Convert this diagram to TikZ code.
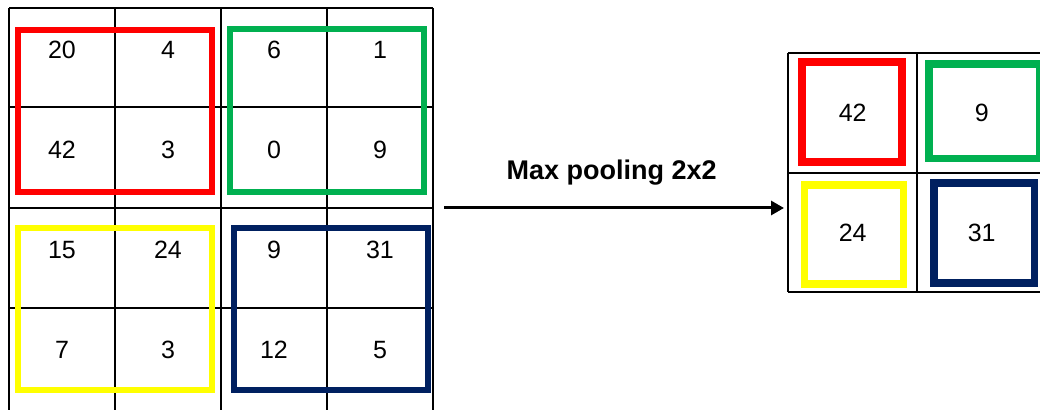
\documentclass[tikz,border=0pt]{standalone}
\usepackage{fontspec}
\setmainfont{Liberation Sans}
\usetikzlibrary{arrows.meta}
\definecolor{PoolRed}{RGB}{255,0,0}
\definecolor{PoolGreen}{RGB}{0,176,80}
\definecolor{PoolYellow}{RGB}{255,255,0}
\definecolor{PoolNavy}{RGB}{0,32,96}

\begin{document}
\begin{tikzpicture}[x=0.5pt, y=-0.5pt,
    gridline/.style={draw=black, line width=1pt},
    num/.style={font=\fontsize{12.5}{15}\selectfont, inner sep=0pt},
    winbox/.style={line width=3pt},
    outbox/.style={line width=3.8pt},
    arr/.style={-{Triangle[length=6.5pt, width=7pt]}, line width=1.5pt}
  ]
  \useasboundingbox (0,0) rectangle (1040,410);

  % input feature map 4x4
  \foreach \xx in {9,115,221,327,433}
    \draw[gridline] (\xx,8) -- (\xx,412);
  \foreach \yy in {8,107,208,308}
    \draw[gridline] (9,\yy) -- (433,\yy);

  \foreach \v/\c/\r in {20/1/1, 4/2/1, 6/3/1, 1/4/1,
                        42/1/2, 3/2/2, 0/3/2, 9/4/2,
                        15/1/3, 24/2/3, 9/3/3, 31/4/3,
                        7/1/4, 3/2/4, 12/3/4, 5/4/4} {
    \node[num] (in-\r-\c) at ({62+(\c-1)*106}, {50+(\r-1)*100}) {\v};
  }

  % pooling windows
  \draw[winbox, PoolRed]    (17.8,29.7)  rectangle (212,191.7);
  \draw[winbox, PoolGreen]  (229.5,29.5) rectangle (424.3,192);
  \draw[winbox, PoolYellow] (17.8,228.3) rectangle (212,390.3);
  \draw[winbox, PoolNavy]   (233.7,228)  rectangle (428,390);

  % output feature map 2x2
  \foreach \xx in {788,917,1046}
    \draw[gridline] (\xx,53) -- (\xx,292);
  \foreach \yy in {53,173,292}
    \draw[gridline] (788,\yy) -- (1046,\yy);

  \node[num] (out-1-1) at (852.7,112.7) {42};
  \node[num] (out-1-2) at (981.7,112.7) {9};
  \node[num] (out-2-1) at (852.7,232.7) {24};
  \node[num] (out-2-2) at (981.7,232.7) {31};

  \draw[outbox, PoolRed]    (802,62)    rectangle (902,162);
  \draw[outbox, PoolGreen]  (928.7,64)  rectangle (1040,158.7);
  \draw[outbox, PoolYellow] (804.5,185) rectangle (903.5,284);
  \draw[outbox, PoolNavy]   (934,183)   rectangle (1034.5,283);

  % arrow + label
  \coordinate (arrS) at (444,208);
  \coordinate (arrE) at (784,208);
  \draw[arr] (arrS) -- (arrE);
  \node[font=\fontsize{13.5}{16}\selectfont\bfseries, anchor=base, inner sep=0pt]
    (pool) at (611.7,179.3) {Max pooling 2x2};
\end{tikzpicture}
\end{document}
